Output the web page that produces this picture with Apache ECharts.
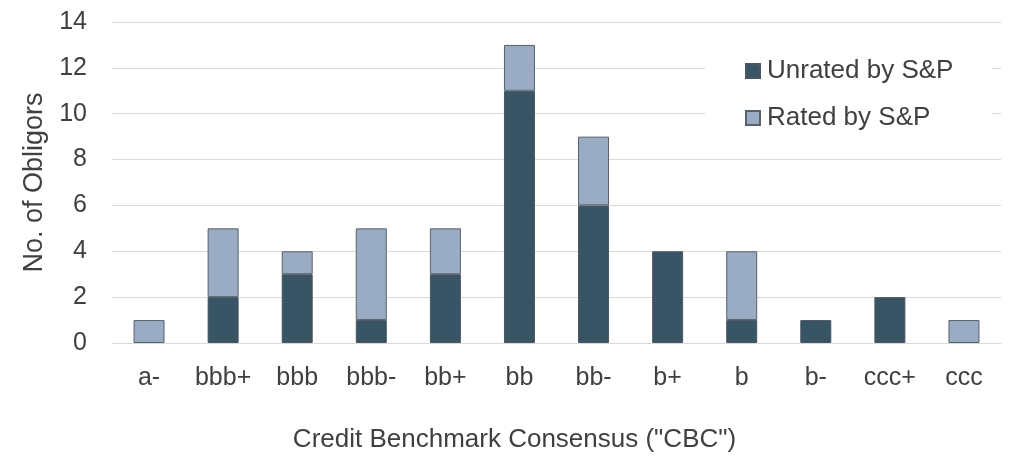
<!DOCTYPE html>
<html>
<head>
<meta charset="utf-8">
<script src="https://cdn.jsdelivr.net/npm/echarts@6/dist/echarts.min.js"></script>
<style>
html,body{margin:0;padding:0;background:#fff;}
#c{width:1024px;height:465px;}
</style>
</head>
<body>
<div id="c"></div>
<script>
const categories = ['a-','bbb+','bbb','bbb-','bb+','bb','bb-','b+','b','b-','ccc+','ccc'];
const unrated = [0,2,3,1,3,11,6,4,1,1,2,0];
const rated = [1,3,1,4,2,2,3,0,3,0,0,1];
const seriesNames = ['Unrated by S&P','Rated by S&P'];
const yTicks = {min:0, max:14, interval:2};

// zero-height segments are not drawn (avoids a stray border line)
const hideZero = arr => arr.map(v => v === 0 ? '-' : v);

const font = 'Liberation Sans, Arial, sans-serif';
const txt = '#404040';
const chart = echarts.init(document.getElementById('c'), null, {renderer:'canvas'});
chart.setOption({
  animation:false,
  backgroundColor:'#fff',
  grid:{left:112, right:23, top:22, bottom:122, containLabel:false},
  legend:{
    orient:'vertical', left:705, top:45,
    padding:[13,38,13,40],
    backgroundColor:'#fff',
    itemWidth:14, itemHeight:14, itemGap:21,
    icon:'rect',
    textStyle:{fontFamily:font, fontSize:26, color:txt, lineHeight:24, padding:[0,0,0,2]},
    data:seriesNames
  },
  xAxis:{
    type:'category', data:categories,
    axisLine:{show:true, lineStyle:{color:'#d9d9d9', width:1}},
    axisTick:{show:false},
    axisLabel:{fontFamily:font, fontSize:25, color:txt, margin:23, interval:0},
    name:'Credit Benchmark Consensus ("CBC")',
    nameLocation:'middle', nameGap:84,
    nameTextStyle:{fontFamily:font, fontSize:26, color:txt, padding:[0,84,0,0]}
  },
  yAxis:{
    type:'value', min:yTicks.min, max:yTicks.max, interval:yTicks.interval,
    axisLine:{show:false}, axisTick:{show:false},
    splitLine:{lineStyle:{color:'#d9d9d9', width:1}},
    axisLabel:{fontFamily:font, fontSize:25, color:txt, margin:25},
    name:'No. of Obligors', nameLocation:'middle', nameGap:63,
    nameTextStyle:{fontFamily:font, fontSize:27, color:txt}
  },
  series:[
    {name:seriesNames[0], type:'bar', stack:'s', data:hideZero(unrated), barWidth:31,
     itemStyle:{color:'#385565', borderColor:'#4a5660', borderWidth:1}},
    {name:seriesNames[1], type:'bar', stack:'s', data:hideZero(rated), barWidth:31,
     itemStyle:{color:'#9aabc4', borderColor:'#56616c', borderWidth:1}}
  ]
});
</script>
</body>
</html>
